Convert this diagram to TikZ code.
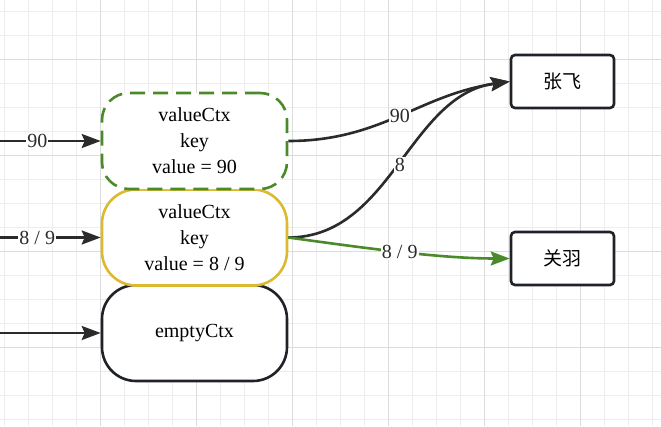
\documentclass[tikz,border=0pt]{standalone}
\usepackage{fontspec}
\setmainfont{Liberation Serif}
\newfontfamily\cjk{Noto Sans CJK SC}
\usetikzlibrary{arrows.meta}
\definecolor{gridminor}{HTML}{EDEDED}
\definecolor{gridmajor}{HTML}{DCDCDC}
\definecolor{edgeblack}{HTML}{2B2B2B}
\definecolor{boxblack}{HTML}{1F2328}
\definecolor{ctxgreen}{HTML}{4A8A2A}
\definecolor{ctxyellow}{HTML}{DBBA2F}
\tikzset{
  ctxbox/.style={draw=boxblack, line width=2.6pt, fill=white, minimum width=185pt, minimum height=96pt, inner sep=0pt, align=center, font=\fontsize{20}{26}\selectfont},
  namebox/.style={draw=boxblack, line width=2.6pt, fill=white, rounded corners=4pt, minimum width=103pt, minimum height=53pt, inner sep=0pt, font=\cjk\fontsize{19}{22}\selectfont},
  conn/.style={draw=edgeblack, line width=2.6pt, -{Stealth[length=19pt,width=14pt,inset=3pt]}},
  lbl/.style={fill=white, inner sep=1pt, font=\fontsize{20}{24}\selectfont, text=edgeblack}
}
\begin{document}
\begin{tikzpicture}[x=1pt,y=-1pt]
\useasboundingbox (0,0) rectangle (661,426);
\fill[white] (0,0) rectangle (661,426);
% grid
\foreach \k in {0,...,27} {
  \draw[gridminor, line width=1pt] ({4.3+24*\k},0) -- ({4.3+24*\k},426);
}
\foreach \k in {0,...,17} {
  \draw[gridminor, line width=1pt] (0,{11.5+24*\k}) -- (661,{11.5+24*\k});
}
\foreach \k in {0,...,6} {
  \draw[gridmajor, line width=1pt] ({100.3+96*\k},0) -- ({100.3+96*\k},426);
}
\foreach \k in {0,...,3} {
  \draw[gridmajor, line width=1pt] (0,{59.5+96*\k}) -- (661,{59.5+96*\k});
}
% context boxes
\node[ctxbox, rounded corners=34pt] (empty) at (194.5,333) {emptyCtx};
\node[ctxbox, draw=ctxyellow, rounded corners=34pt] (yellow) at (194.5,237.5) {valueCtx\\key\\value = 8 / 9};
\node[ctxbox, draw=ctxgreen, dash pattern=on 15pt off 8pt, rounded corners=27pt] (green) at (194.5,141) {valueCtx\\key\\value = 90};
% name boxes
\node[namebox] (zf) at (562.5,81.5) {张飞};
\node[namebox] (gy) at (562.5,258.5) {关羽};
% left inputs
\coordinate (in1) at (0,141);
\coordinate (in2) at (0,237.5);
\coordinate (in3) at (0,333);
\draw[conn] (in1) -- node[lbl, pos=0.37] {90} (green.west);
\draw[conn] (in2) -- node[lbl, pos=0.37] {8 / 9} (yellow.west);
\draw[conn] (in3) -- (empty.west);
% right connectors
\draw[conn] (green.east) .. controls +(93,0) and +(-91,13.5) .. node[lbl, pos=0.5] {90} (zf.west);
\draw[conn] (yellow.east) .. controls +(103,0) and +(-101,13.5) .. node[lbl, pos=0.5] {8} (zf.west);
\draw[conn, draw=ctxgreen] (yellow.east) .. controls +(73,10) and +(-71,0) .. node[lbl, pos=0.5] {8 / 9} (gy.west);
\end{tikzpicture}
\end{document}
